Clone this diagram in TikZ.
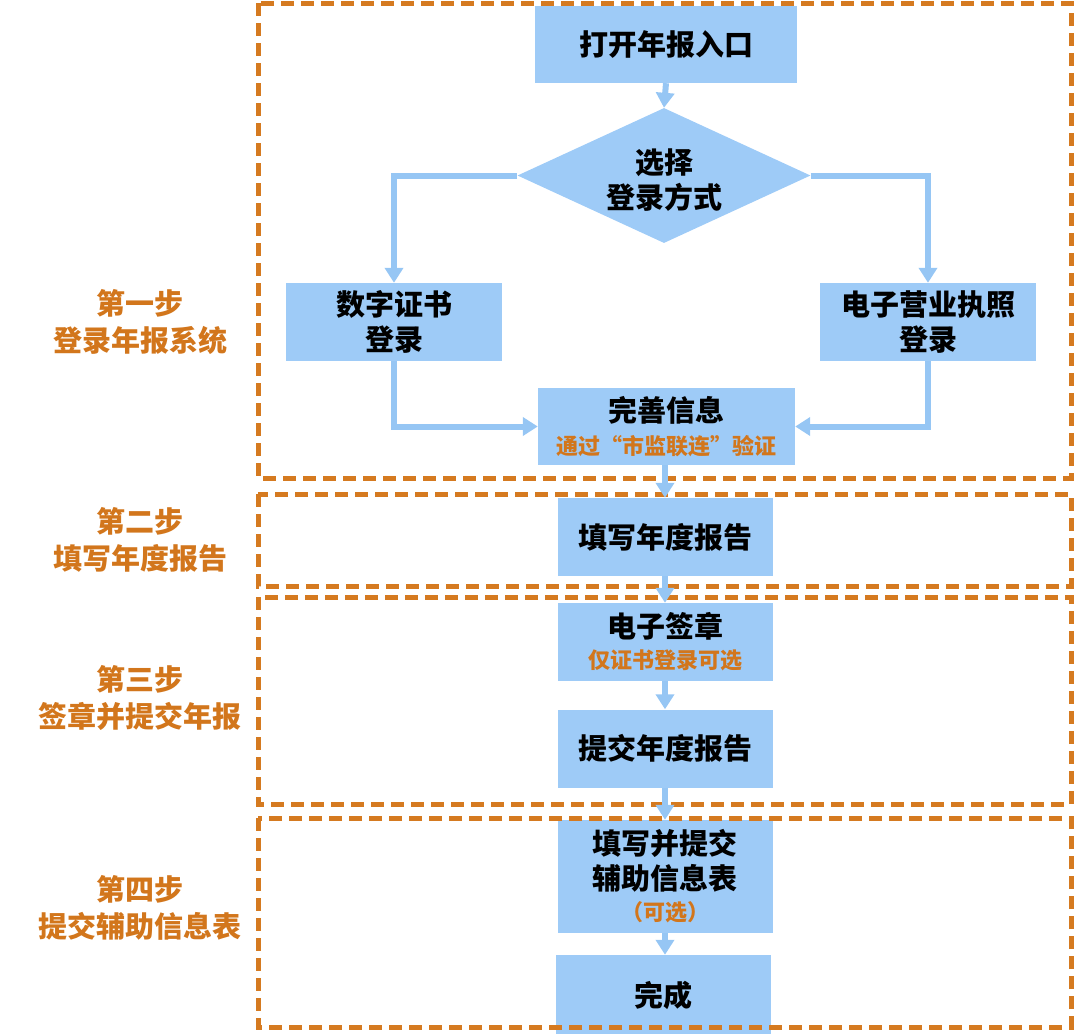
\documentclass[tikz,border=0pt]{standalone}
\usepackage{fontspec}
\setmainfont{Noto Sans CJK SC}
\usetikzlibrary{arrows.meta,shapes.geometric}
\definecolor{boxblue}{RGB}{158,203,247}
\definecolor{arrblue}{RGB}{150,198,244}
\definecolor{dashorange}{RGB}{213,122,32}
\definecolor{txtorange}{RGB}{210,118,28}
\tikzset{
  box/.style={fill=boxblue, draw=none, inner sep=0pt, align=center,
    font=\bfseries\fontsize{29}{35}\selectfont, text=black},
  colbox/.style={box, minimum width=215pt, minimum height=78pt},
  dia/.style={diamond, fill=boxblue, draw=none, inner sep=0pt,
    minimum width=293pt, minimum height=135pt},
  flow/.style={draw=arrblue, line width=6pt,
    -{Triangle[width=18pt,length=15pt]}},
  stage/.style={draw=dashorange, line width=5pt, dash pattern=on 13pt off 7pt},
  steplabel/.style={align=center, text=txtorange,
    font=\bfseries\fontsize{29}{37}\selectfont},
}
\newcommand{\subnote}[1]{{\color{txtorange}\fontsize{22}{27}\selectfont #1}}
\begin{document}
\begin{tikzpicture}[x=1pt,y=-1pt]
\useasboundingbox (0,0) rectangle (1080,1034);

% nodes
\node[box, minimum width=262pt, minimum height=77pt] (open) at (666,44.5) {打开年报入口};
\node[dia] (choose) at (664,175.5) {};
\node[box, fill=none] (choosetxt) at (664,180) {选择\\登录方式};
\node[box, minimum width=216pt, minimum height=78pt] (cert) at (394,322) {数字证书\\登录};
\node[box, minimum width=216pt, minimum height=78pt] (lic) at (928,322) {电子营业执照\\登录};
\node[box, minimum width=257pt, minimum height=77pt] (info) at (666.5,426.5) {完善信息\\[-2pt]\subnote{通过“市监联连”验证}};
\node[colbox] (fill) at (665,537) {填写年度报告};
\node[colbox] (sign) at (665,642) {电子签章\\[-4pt]\subnote{仅证书登录可选}};
\node[colbox] (submit) at (665,748.5) {提交年度报告};
\node[colbox, minimum height=113pt] (aux) at (665,876.5) {填写并提交\\辅助信息表\\[-4pt]\subnote{（可选）}};
\node[colbox, minimum height=81pt] (done) at (663,995.5) {完成};

% step labels
\node[steplabel] (s1) at (140,322) {第一步\\登录年报系统};
\node[steplabel] (s2) at (140,540) {第二步\\填写年度报告};
\node[steplabel] (s3) at (140,698) {第三步\\签章并提交年报};
\node[steplabel] (s4) at (140,908) {第四步\\提交辅助信息表};

% stage frames
\draw[stage] (258,3) rectangle (1071,478);
\draw[stage] (258,494) rectangle (1071,586);
\draw[stage] (258,597) rectangle (1071,804);
\draw[stage] (258,818) rectangle (1071,1027);

% connectors
\draw[flow] (open.south) -- (choose.north);
\draw[flow] (choose.west) -| (cert.north);
\draw[flow] (choose.east) -| (lic.north);
\draw[flow] (cert.south) |- (info.west);
\draw[flow] (lic.south) |- (info.east);
\draw[flow] (info.south -| fill.north) -- (fill.north);
\draw[flow] (fill.south) -- (sign.north);
\draw[flow] (sign.south) -- (submit.north);
\draw[flow] (submit.south) -- (aux.north);
\draw[flow] (aux.south) -- (aux.south |- done.north);
\end{tikzpicture}
\end{document}
